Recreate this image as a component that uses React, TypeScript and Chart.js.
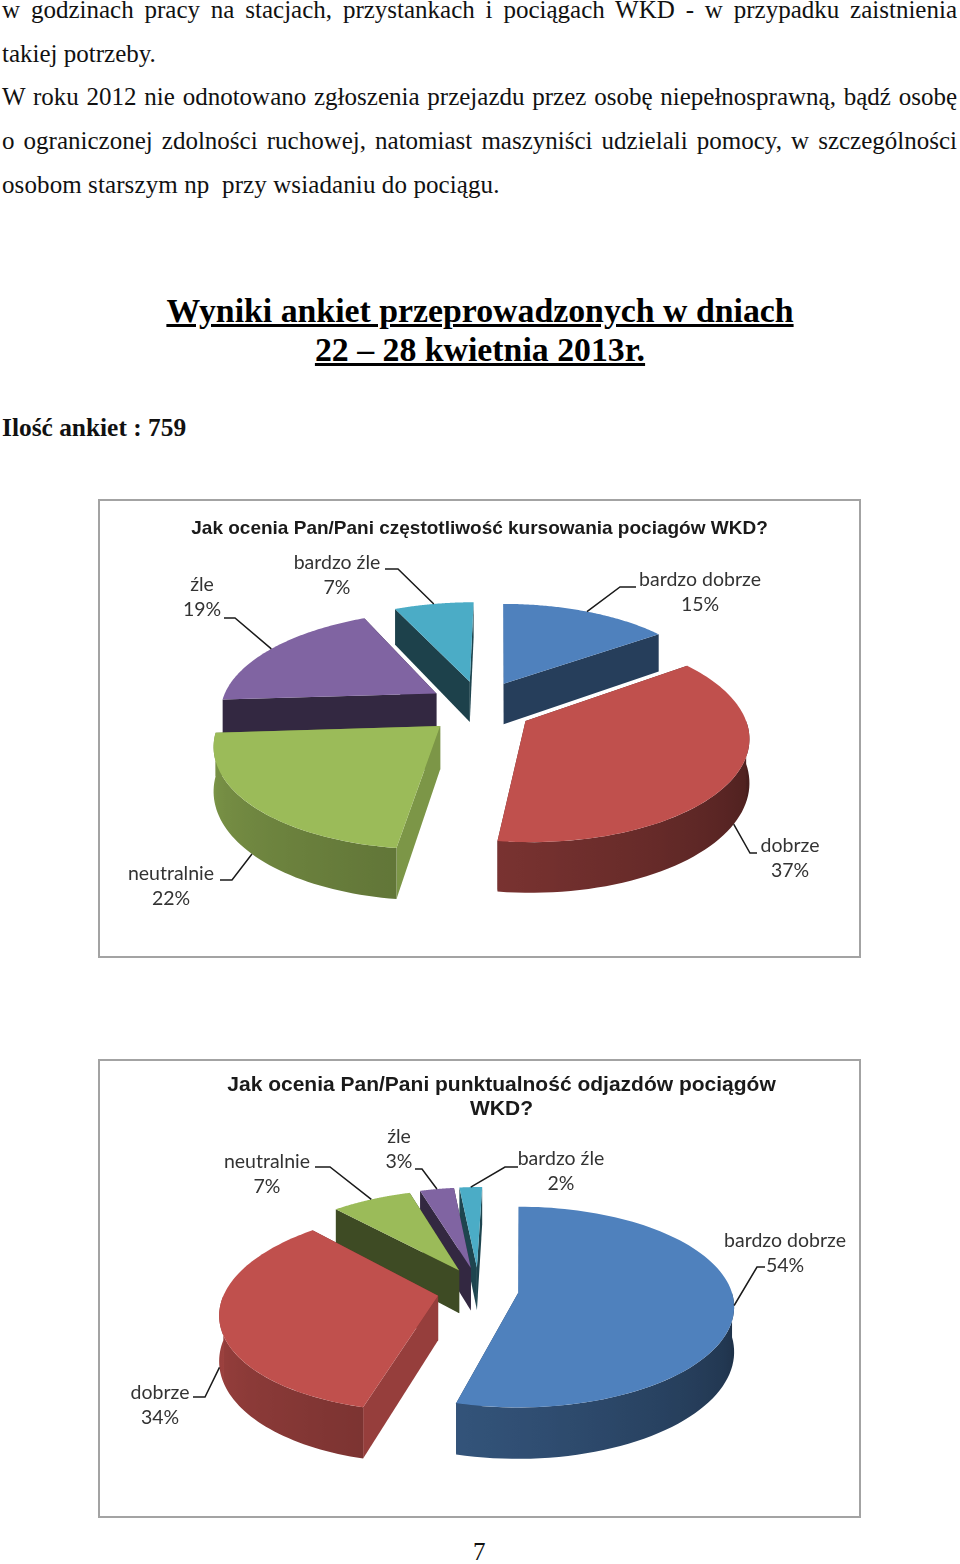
import React, { useEffect, useRef } from "react";
import { Chart, registerables } from "chart.js";

Chart.register(...registerables);

// ---- data ----
const categoriesA = ["bardzo dobrze", "dobrze", "neutralnie", "źle", "bardzo źle"];
const valuesA = [15, 37, 22, 19, 7];
const titleA = "Jak ocenia Pan/Pani częstotliwość kursowania pociagów WKD?";

const categoriesB = ["bardzo dobrze", "dobrze", "neutralnie", "źle", "bardzo źle"];
const valuesB = [54, 34, 7, 3, 2];
const titleB = ["Jak ocenia Pan/Pani punktualność odjazdów pociągów", "WKD?"];

const topColors = ["#4f81bd", "#c0504d", "#9bbb59", "#8064a2", "#4bacc6"];

const bodyLines = [
  "w godzinach pracy na stacjach, przystankach i pociągach WKD - w przypadku zaistnienia",
  "takiej potrzeby.",
  "W roku 2012 nie odnotowano zgłoszenia przejazdu przez osobę niepełnosprawną, bądź osobę",
  "o ograniczonej zdolności ruchowej, natomiast maszyniści udzielali pomocy, w szczególności",
  "osobom starszym np\u00a0 przy wsiadaniu do pociągu.",
];

// ---- styling / layout (page coordinates) ----
const layoutA = {
  origin: [100, 501], cx: 480, cy: 707, s: 216, k: 0.455, p: 0.15, skew: 3, explodeX: 0.242, explodeZ: 0.275, H: 42,
  startShade: [0.5, 0.5, 0.8, 0.4, 0.38],
  endShade: [0.48, 0.5, 0.7, 0.4, 0.4],
  order: [0, 4, 3, 2, 1],
  labels: [
    { elbow: [620, 587], end: [636, 587], tx: 700, ty: 580 },
    { elbow: [750, 853], end: [757, 853], tx: 790, ty: 846 },
    { elbow: [232, 880], end: [220, 880], tx: 171, ty: 874 },
    { elbow: [235, 618], end: [224, 618], tx: 202, ty: 585 },
    { elbow: [398, 569], end: [385, 569], tx: 337, ty: 563 },
  ],
};
const layoutB = {
  origin: [100, 1061], cx: 478, cy: 1290, s: 213, k: 0.458, p: 0.14, skew: 6, explodeX: 0.19, explodeZ: 0.24, H: 44,
  startShade: [0.4, 0.78, 0.4, 0.4, 0.4],
  endShade: [0.5, 0.6, 0.4, 0.4, 0.4],
  order: [4, 3, 2, 1, 0],
  labels: [
    { elbow: [757, 1267], end: [765, 1267], tx: 785, ty: 1241 },
    { elbow: [205, 1397], end: [193, 1397], tx: 160, ty: 1393 },
    { elbow: [330, 1167], end: [315, 1167], tx: 267, ty: 1162 },
    { elbow: [422, 1169], end: [415, 1169], tx: 399, ty: 1137 },
    { elbow: [505, 1167], end: [518, 1167], tx: 561, ty: 1159 },
  ],
};

function shade(hex: string, f: number) {
  const n = parseInt(hex.slice(1), 16);
  const r = Math.round(((n >> 16) & 255) * f);
  const g = Math.round(((n >> 8) & 255) * f);
  const b = Math.round((n & 255) * f);
  return `rgb(${r},${g},${b})`;
}

function wallShade(deg: number) {
  if (deg <= 90) return 0.36;
  if (deg <= 187) return 0.36 + ((deg - 90) / 97) * 0.27;
  if (deg <= 270) return 0.63 + ((deg - 187) / 83) * 0.19;
  return 0.82;
}

const pie3d = {
  id: "pie3d",
  beforeDatasetDraw() {
    return false;
  },
  afterDatasetsDraw(chart: any, _a: any, o: any) {
    const L = o.layout;
    const ctx: CanvasRenderingContext2D = chart.ctx;
    const arcs = chart.getDatasetMeta(0).data;
    const data = chart.data.datasets[0].data;
    const labels = chart.data.labels;
    const proj = (X: number, Z: number, h = 0) => {
      const w = 1 + L.p * Z;
      return [L.cx + (X * L.s + Z * L.skew) / w, L.cy - (Z * L.k * L.s) / w + h / w];
    };
    const geom = (i: number) => {
      const t0 = arcs[i].startAngle + Math.PI / 2;
      const t1 = arcs[i].endAngle + Math.PI / 2;
      const m = (t0 + t1) / 2;
      const X0 = L.explodeX * Math.sin(m);
      const Z0 = L.explodeZ * Math.cos(m);
      const rim = (t: number, h = 0) => proj(X0 + Math.sin(t), Z0 + Math.cos(t), h);
      const apex = (h = 0) => proj(X0, Z0, h);
      return { t0, t1, m, rim, apex };
    };
    const poly = (pts: number[][], fill: any) => {
      ctx.beginPath();
      pts.forEach((p, j) => (j ? ctx.lineTo(p[0], p[1]) : ctx.moveTo(p[0], p[1])));
      ctx.closePath();
      ctx.fillStyle = fill;
      ctx.fill();
    };
    ctx.save();
    ctx.translate(-L.origin[0], -L.origin[1]);
    L.order.forEach((i: number) => {
      const g = geom(i);
      const col = topColors[i];
      const H = L.H;
      poly([g.apex(), g.rim(g.t1), g.rim(g.t1, H), g.apex(H)], shade(col, L.endShade[i]));
      poly([g.apex(), g.rim(g.t0), g.rim(g.t0, H), g.apex(H)], shade(col, L.startShade[i]));
      // outer wall: the front-facing part of the rim, shaded along its length
      const wa = Math.max(g.t0, Math.PI / 2);
      const wb = Math.min(g.t1, (3 * Math.PI) / 2);
      if (wb - wa > (8 * Math.PI) / 180) {
        const n = 48;
        const ang = Array.from({ length: n + 1 }, (_, j) => wa + ((wb - wa) * j) / n);
        const top = ang.map((t) => g.rim(t));
        const bot = ang.map((t) => g.rim(t, H));
        const xs = bot.map((p) => p[0]);
        const x0 = Math.min(...xs);
        const x1 = Math.max(...xs);
        const grad = ctx.createLinearGradient(x0, 0, x1, 0);
        ang.forEach((t, j) => {
          grad.addColorStop((xs[j] - x0) / (x1 - x0), shade(col, wallShade((t * 180) / Math.PI)));
        });
        poly([...top, ...bot.reverse()], grad);
      }
      const steps = 96;
      const pts = [g.apex()];
      for (let j = 0; j <= steps; j++) pts.push(g.rim(g.t0 + ((g.t1 - g.t0) * j) / steps));
      poly(pts, col);
    });
    // leaders + labels
    ctx.font = "19.5px Lato";
    ctx.textAlign = "center";
    ctx.textBaseline = "middle";
    labels.forEach((name: string, i: number) => {
      const g = geom(i);
      const front = Math.cos(g.m) < -0.2;
      const a = g.rim(g.m, front ? L.H : 0);
      const l = L.labels[i];
      ctx.beginPath();
      ctx.moveTo(a[0], a[1]);
      ctx.lineTo(l.elbow[0], l.elbow[1]);
      ctx.lineTo(l.end[0], l.end[1]);
      ctx.strokeStyle = "#1a1a1a";
      ctx.lineWidth = 1.5;
      ctx.stroke();
      ctx.fillStyle = "#333333";
      ctx.fillText(name, l.tx, l.ty);
      ctx.fillText(`${data[i]}%`, l.tx, l.ty + 25);
    });
    ctx.restore();
  },
};

function Pie({ cats, vals, title, layout, top, pad, paddingLeft, titleSize }: any) {
  const ref = useRef<HTMLCanvasElement>(null);
  useEffect(() => {
    const chart = new Chart(ref.current!, {
      type: "pie",
      data: {
        labels: cats,
        datasets: [{ data: vals, backgroundColor: topColors, borderWidth: 0 }],
      },
      options: {
        responsive: false,
        animation: false,
        devicePixelRatio: 1,
        layout: { padding: { left: paddingLeft } },
        plugins: {
          legend: { display: false },
          tooltip: { enabled: false },
          title: {
            display: true,
            text: title,
            color: "#1a1a1a",
            font: { family: "'Liberation Sans'", weight: "bold", size: titleSize, lineHeight: 24 / titleSize },
            padding: { top: pad, bottom: 4 },
          },
          pie3d: { layout },
        },
      } as any,
      plugins: [pie3d as any],
    });
    return () => chart.destroy();
  }, []);
  return (
    <div
      style={{
        position: "absolute",
        left: 98,
        top,
        width: 763,
        height: 459,
        boxSizing: "border-box",
        border: "2px solid #a3a3a3",
        background: "#fff",
      }}
    >
      <canvas ref={ref} width={759} height={455} style={{ display: "block" }} />
    </div>
  );
}

const bodyBase: React.CSSProperties = {
  position: "absolute",
  left: 2,
  width: 955,
  fontFamily: "'Liberation Serif'",
  fontSize: 25,
  lineHeight: "28px",
  color: "#111",
  whiteSpace: "nowrap",
};

export default function App() {
  const tops = [-4, 40, 83, 127, 171];
  return (
    <div style={{ position: "absolute", left: 0, top: 0, width: 960, height: 1564, background: "#fff", overflow: "hidden" }}>
      {bodyLines.map((t, i) => (
        <div
          key={i}
          style={{
            ...bodyBase,
            top: tops[i],
            textAlign: "justify",
            textAlignLast: i === 0 || i === 2 || i === 3 ? "justify" : "left",
            letterSpacing: i === 4 ? 0.1 : 0,
          }}
        >
          {t}
        </div>
      ))}
      <div
        style={{
          position: "absolute", left: 0, width: 960, top: 291, textAlign: "center",
          fontFamily: "'Liberation Serif'", fontWeight: "bold", fontSize: 33.8, lineHeight: "39px",
          textDecoration: "underline", color: "#000",
        }}
      >
        <div>Wyniki ankiet przeprowadzonych w dniach</div>
        <div>22 – 28 kwietnia 2013r.</div>
      </div>
      <div style={{ ...bodyBase, top: 413, fontWeight: "bold", fontSize: 25.4 }}>Ilość ankiet : 759</div>
      <Pie cats={categoriesA} vals={valuesA} title={titleA} layout={layoutA} top={499} pad={16} paddingLeft={0} titleSize={19} />
      <Pie cats={categoriesB} vals={valuesB} title={titleB} layout={layoutB} top={1059} pad={12} paddingLeft={44} titleSize={21} />
      <div style={{ ...bodyBase, top: 1538, left: 473, width: 20 }}>7</div>
    </div>
  );
}
